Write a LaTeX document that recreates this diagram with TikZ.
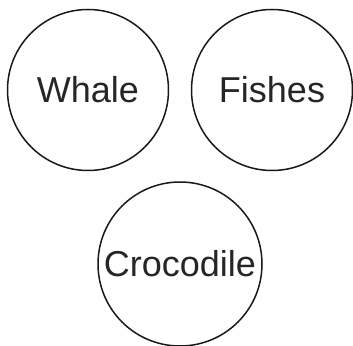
\documentclass[tikz,border=0pt]{standalone}
\usepackage{fontspec}
\setmainfont{Liberation Sans}
\usepackage{tikz}

\begin{document}
\begin{tikzpicture}[
  x=1pt, y=1pt,
  every node/.style={font=\fontsize{36}{40}\selectfont},
  % --- animal circles ---
  animal/.style={
    draw=black!90, line width=1.5pt, circle,
    minimum size=161pt, inner sep=0pt, text=black!85,
  },
]

\useasboundingbox (0,0) rectangle (353,-345);

% ---------- Row 1 ----------
\node[animal] (whale) at (88,-90) {Whale};
\node[animal] (fishes) at (272,-90) {Fishes};

% ---------- Row 2 ----------
\node[animal, minimum size=164pt] (croc) at (180,-264) {Crocodile};

\end{tikzpicture}
\end{document}
